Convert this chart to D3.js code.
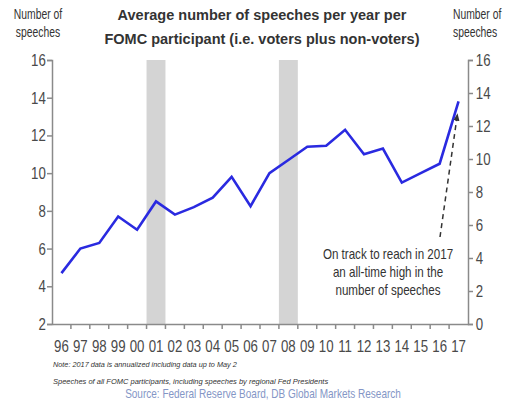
<!DOCTYPE html>
<html>
<head>
<meta charset="utf-8">
<script src="https://cdn.jsdelivr.net/npm/d3@7"></script>
<style>
  body { margin: 0; background: #fff; }
  svg { display: block; font-family: "Liberation Sans", Arial, sans-serif; }
  .axis path, .axis line { stroke: #8a8a8a; stroke-width: 1.5; }
  .axis text { fill: #4a4a4a; font-size: 17px; font-family: "Liberation Sans", Arial, sans-serif; }
</style>
</head>
<body>
<svg width="517" height="402"></svg>
<script>
let years = ["96","97","98","99","00","01","02","03","04","05","06","07","08","09","10","11","12","13","14","15","16","17"];
let speeches = [4.7, 6.0, 6.3, 7.7, 7.0, 8.5, 7.8, 8.2, 8.7, 9.8, 8.25, 10.0, 10.7, 11.4, 11.45, 12.3, 11.0, 11.3, 9.5, 10.0, 10.5, 13.8];
let shaded = ["01", "08"];
let leftTicks = [2, 4, 6, 8, 10, 12, 14, 16];
let rightTicks = [0, 2, 4, 6, 8, 10, 12, 14, 16];

let svg = d3.select("svg");
let mLeft = 52, mRight = 468, mTop = 60, mBottom = 324;
const squeeze = 0.78; // the original uses a narrow font

let x = d3.scaleBand().domain(years).range([mLeft, mRight]);
let yL = d3.scaleLinear().domain([2, 16]).range([mBottom, mTop]);
let yR = d3.scaleLinear().domain([0, 16]).range([mBottom, mTop]);

// narrow text block: lines stacked, horizontally squeezed
function narrowText(xp, y, lines, lh, opts) {
  let g = svg.append("g").attr("transform", `translate(${xp},${y}) scale(${opts.s || squeeze},1)`);
  let t = g.append("text")
    .attr("text-anchor", opts.anchor || "middle")
    .attr("font-size", opts.size)
    .attr("fill", opts.fill || "#333");
  lines.forEach((s, i) => t.append("tspan").attr("x", 0).attr("y", i * lh).text(s));
  return t;
}

// shaded periods
svg.append("g").selectAll("rect")
  .data(shaded)
  .join("rect")
    .attr("x", d => x(d))
    .attr("width", x.bandwidth())
    .attr("y", mTop)
    .attr("height", mBottom - mTop)
    .attr("fill", "#d4d4d4");

// axes
let gl = svg.append("g")
  .attr("class", "axis")
  .attr("transform", `translate(${mLeft},0)`)
  .call(d3.axisLeft(yL).tickValues(leftTicks).tickSize(5).tickSizeOuter(5).tickPadding(3));
gl.selectAll(".tick text").attr("transform", `scale(${squeeze},1)`);

let gr = svg.append("g")
  .attr("class", "axis")
  .attr("transform", `translate(${mRight},0)`)
  .call(d3.axisRight(yR).tickValues(rightTicks).tickSize(5).tickSizeOuter(5).tickPadding(5));
gr.selectAll(".tick text").attr("transform", `scale(${squeeze},1)`);

let gx = svg.append("g")
  .attr("class", "axis")
  .attr("transform", `translate(0,${mBottom})`)
  .call(d3.axisBottom(x).tickSize(0).tickPadding(16));
gx.selectAll(".tick text").attr("transform", `scale(${squeeze},1)`);

// boundary ticks on x axis
svg.append("g").selectAll("line")
  .data(years.slice(1))
  .join("line")
    .attr("x1", d => x(d))
    .attr("x2", d => x(d))
    .attr("y1", mBottom)
    .attr("y2", mBottom + 5)
    .attr("stroke", "#8a8a8a")
    .attr("stroke-width", 1.5);

// line
let line = d3.line()
  .x((d, i) => x(years[i]) + x.bandwidth() / 2)
  .y(d => yL(d));

svg.append("path")
  .datum(speeches)
  .attr("d", line)
  .attr("fill", "none")
  .attr("stroke", "#2a2ae0")
  .attr("stroke-width", 2.6)
  .attr("stroke-linejoin", "miter");

// annotation arrow
svg.append("defs").append("marker")
  .attr("id", "arr")
  .attr("viewBox", "0 0 10 10")
  .attr("refX", 5).attr("refY", 5)
  .attr("markerWidth", 5).attr("markerHeight", 5)
  .attr("orient", "auto")
  .append("path")
    .attr("d", "M0,1 L10,5 L0,9 z")
    .attr("fill", "#333");

svg.append("line")
  .attr("x1", 440).attr("y1", 237)
  .attr("x2", 457).attr("y2", 117)
  .attr("stroke", "#333")
  .attr("stroke-width", 1.5)
  .attr("stroke-dasharray", "5,4")
  .attr("marker-end", "url(#arr)");

narrowText(388, 259, ["On track to reach in 2017", "an all-time high in the", "number of speeches"], 18, {size: 14.5, s: 0.8});

// title
let title = svg.append("text")
  .attr("text-anchor", "middle")
  .attr("font-weight", "bold")
  .attr("font-size", 14.5)
  .attr("fill", "#333");
["Average number of speeches per year per", "FOMC participant (i.e. voters plus non-voters)"].forEach((t, i) => {
  title.append("tspan").attr("x", 262).attr("y", 20 + i * 24).text(t);
});

// axis titles
narrowText(38, 19, ["Number of", "speeches"], 18, {size: 14, s: 0.74});
narrowText(453, 19, ["Number of", "speeches"], 18, {size: 14, s: 0.74, anchor: "start"});

// notes
svg.append("text")
  .attr("x", 53).attr("y", 367)
  .attr("font-style", "italic")
  .attr("font-size", 7.3)
  .attr("fill", "#333")
  .text("Note: 2017 data is annualized including data up to May 2");

svg.append("text")
  .attr("x", 53).attr("y", 384)
  .attr("font-style", "italic")
  .attr("font-size", 7.5)
  .attr("fill", "#333")
  .text("Speeches of all FOMC participants, including speeches by regional Fed Presidents");

narrowText(263, 398, ["Source: Federal Reserve Board, DB Global Markets Research"], 0, {size: 13, s: 0.77, fill: "#8496c6"});
</script>
</body>
</html>
